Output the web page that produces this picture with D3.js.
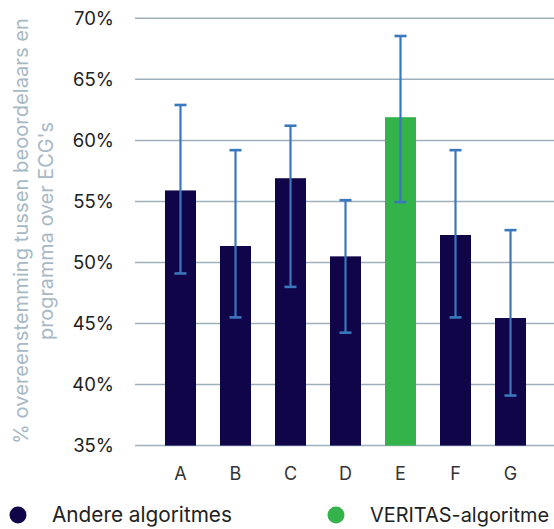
<!DOCTYPE html>
<html>
<head>
<meta charset="utf-8">
<script src="https://cdn.jsdelivr.net/npm/d3@7"></script>
<style>
  html, body { margin: 0; padding: 0; background: #fff; }
  svg { display: block; font-family: Inter, "Noto Sans", sans-serif; }
</style>
</head>
<body>
<svg id="chart" width="554" height="529"></svg>
<script>
// Agreement between raters and algorithm, per algorithm (percent)
const categories = ["A", "B", "C", "D", "E", "F", "G"];
const values     = [55.9, 51.35, 56.9, 50.5, 61.9, 52.25, 45.45];
const errLow     = [49.1, 45.5, 48.0, 44.25, 54.95, 45.5, 39.1];
const errHigh    = [62.9, 59.2, 61.2, 55.1, 68.55, 59.2, 52.65];
const groups     = ["other", "other", "other", "other", "veritas", "other", "other"];
const yTicks     = [35, 40, 45, 50, 55, 60, 65, 70];
const legendItems = [
  { key: "other",   label: "Andere algoritmes" },
  { key: "veritas", label: "VERITAS-algoritme" }
];
const yTitleLines = ["% overeenstemming tussen beoordelaars en", "programma over ECG's"];

const colors = { other: "#0f0548", veritas: "#33b34a" };
const errColor = "#3a78bd";

const svg = d3.select("#chart");

// scale a text's font size so that it spans the given width
function fitWidth(sel, width) {
  sel.each(function () {
    const len = this.getComputedTextLength();
    const fs = parseFloat(this.getAttribute("font-size"));
    if (len > 0) this.setAttribute("font-size", (fs * width / len).toFixed(2));
  });
}

const x = d3.scaleBand()
  .domain(categories)
  .range([153, 538])
  .paddingInner(0.4364)
  .paddingOuter(0.218);

const y = d3.scaleLinear()
  .domain([35, 70])
  .range([445.6, 18.3]);

// gridlines
svg.append("g")
  .selectAll("line")
  .data(yTicks)
  .join("line")
  .attr("x1", 135).attr("x2", 554)
  .attr("y1", d => y(d)).attr("y2", d => y(d))
  .attr("stroke", "#9fb0bd")
  .attr("stroke-width", 1.5);

// y tick labels
svg.append("g")
  .selectAll("text")
  .data(yTicks)
  .join("text")
  .attr("x", 114)
  .attr("y", d => y(d))
  .attr("dy", "0.36em")
  .attr("text-anchor", "end")
  .attr("font-size", 18.5)
  .attr("fill", "#222")
  .text(d => d + "%");

// bars
svg.append("g")
  .selectAll("rect")
  .data(categories)
  .join("rect")
  .attr("x", d => x(d))
  .attr("width", x.bandwidth())
  .attr("y", (d, i) => y(values[i]))
  .attr("height", (d, i) => y(35) - y(values[i]))
  .attr("fill", (d, i) => colors[groups[i]]);

// error bars
const eb = svg.append("g")
  .attr("stroke", errColor)
  .attr("fill", "none");
const cx = d => x(d) + x.bandwidth() / 2;
eb.selectAll("line.v")
  .data(categories)
  .join("line")
  .attr("class", "v")
  .attr("x1", cx).attr("x2", cx)
  .attr("y1", (d, i) => y(errLow[i]))
  .attr("y2", (d, i) => y(errHigh[i]))
  .attr("stroke-width", 2.2);
eb.selectAll("line.top")
  .data(categories)
  .join("line")
  .attr("class", "top")
  .attr("x1", d => cx(d) - 6).attr("x2", d => cx(d) + 6)
  .attr("y1", (d, i) => y(errHigh[i]))
  .attr("y2", (d, i) => y(errHigh[i]))
  .attr("stroke-width", 2.6);
eb.selectAll("line.bot")
  .data(categories)
  .join("line")
  .attr("class", "bot")
  .attr("x1", d => cx(d) - 6).attr("x2", d => cx(d) + 6)
  .attr("y1", (d, i) => y(errLow[i]))
  .attr("y2", (d, i) => y(errLow[i]))
  .attr("stroke-width", 2.6);

// x labels
svg.append("g")
  .selectAll("text")
  .data(categories)
  .join("text")
  .attr("x", cx)
  .attr("y", 480)
  .attr("text-anchor", "middle")
  .attr("font-size", 18)
  .attr("fill", "#333")
  .text(d => d);

// y axis title, two rotated lines
const yTitleWidths = [426, 218];
yTitleLines.forEach((line, i) => {
  const t = svg.append("text")
    .attr("transform", `translate(${28 + i * 25},231) rotate(-90)`)
    .attr("text-anchor", "middle")
    .attr("font-size", 18.5)
    .attr("fill", "#a7b9c5")
    .text(line);
  fitWidth(t, yTitleWidths[i]);
});

// legend
const legendX = [18, 336];
const legendWidths = [180, 179];
const lg = svg.append("g")
  .selectAll("g")
  .data(legendItems)
  .join("g")
  .attr("transform", (d, i) => `translate(${legendX[i]},515)`);
lg.append("circle")
  .attr("r", 8.5)
  .attr("fill", d => colors[d.key]);
lg.append("text")
  .attr("x", 34)
  .attr("y", 0)
  .attr("dy", "0.36em")
  .attr("font-size", 18.5)
  .attr("fill", "#222")
  .text(d => d.label)
  .each(function (d, i) { fitWidth(d3.select(this), legendWidths[i]); });
</script>
</body>
</html>
